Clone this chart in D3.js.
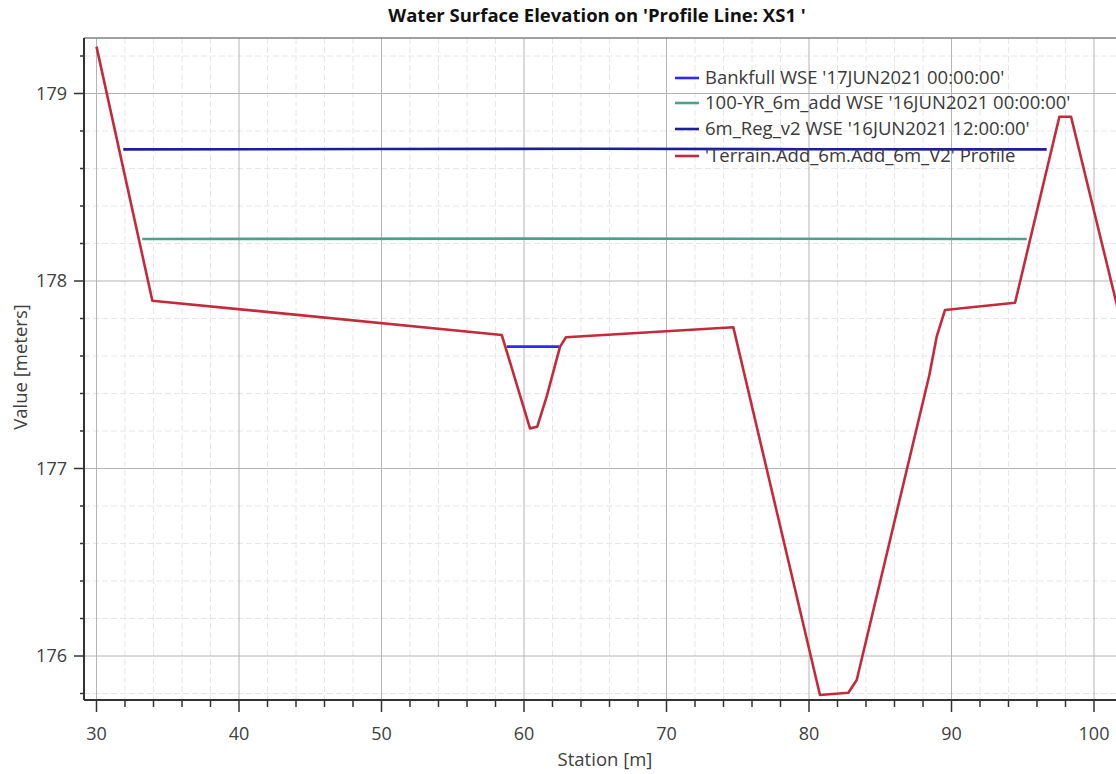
<!DOCTYPE html>
<html>
<head>
<meta charset="utf-8">
<script src="https://cdn.jsdelivr.net/npm/d3@7"></script>
<style>
  html, body { margin: 0; padding: 0; background: #fff; }
  svg { display: block; }
</style>
</head>
<body>
<svg id="chart" width="1116" height="774"></svg>
<script>
// ---------- data ----------
const title = "Water Surface Elevation on 'Profile Line: XS1 '";
const xLabel = "Station [m]";
const yLabel = "Value [meters]";
const xTicks = [30, 40, 50, 60, 70, 80, 90, 100];
const yTicks = [176, 177, 178, 179];

const terrainStation = [30, 33.92, 58.44, 60.42, 60.93, 61.59, 62.53, 62.95, 74.69, 80.77, 82.76, 83.35, 88.45, 88.96, 89.54, 94.46, 97.57, 98.39, 101.35, 102];
const terrainValue   = [179.25, 177.895, 177.712, 177.214, 177.223, 177.383, 177.65, 177.70, 177.753, 175.792, 175.804, 175.872, 177.50, 177.703, 177.845, 177.884, 178.876, 178.876, 177.952, 177.75];

const regStation = [31.88, 50, 65, 80, 96.68];
const regValue   = [178.702, 178.704, 178.705, 178.703, 178.702];

const yrStation = [33.21, 60, 95.28];
const yrValue   = [178.224, 178.226, 178.224];

const bankStation = [58.79, 62.46];
const bankValue   = [177.65, 177.65];

const legendLabels = [
  "Bankfull WSE '17JUN2021 00:00:00'",
  "100-YR_6m_add WSE '16JUN2021 00:00:00'",
  "6m_Reg_v2 WSE '16JUN2021 12:00:00'",
  "'Terrain.Add_6m.Add_6m_V2' Profile"
];
const legendColors = ["#2b2bf5", "#4f9f8f", "#1e1e9a", "#c42a3c"];

// ---------- layout ----------
const svg = d3.select("#chart");
const plot = { left: 84, top: 38, bottom: 700, right: 1130 };
const font = "'Open Sans', 'Noto Sans', sans-serif";

const x = d3.scaleLinear().domain([30, 100]).range([96.5, 1094]);
const y = d3.scaleLinear().domain([176, 179]).range([656, 93.5]);

svg.append("defs").append("clipPath").attr("id", "clip")
  .append("rect").attr("x", plot.left).attr("y", plot.top)
  .attr("width", plot.right - plot.left).attr("height", plot.bottom - plot.top);

const xMin = x.invert(plot.left), xMax = x.invert(plot.right);
const yMin = y.invert(plot.bottom), yMax = y.invert(plot.top);
const xMinor = d3.range(Math.ceil(xMin / 2) * 2, xMax, 2).filter(v => v % 10 !== 0);
const yMinor = d3.range(Math.ceil(yMin * 5), yMax * 5).map(v => v / 5).filter(v => Math.abs(v - Math.round(v)) > 1e-6);

const grid = svg.append("g").attr("clip-path", "url(#clip)");
// minor grid
grid.selectAll(".mgx").data(xMinor).join("line")
  .attr("x1", d => x(d)).attr("x2", d => x(d))
  .attr("y1", plot.top).attr("y2", plot.bottom)
  .attr("stroke", "#e6e6e6").attr("stroke-width", 1).attr("stroke-dasharray", "6,3");
grid.selectAll(".mgy").data(yMinor).join("line")
  .attr("x1", plot.left).attr("x2", plot.right)
  .attr("y1", d => y(d)).attr("y2", d => y(d))
  .attr("stroke", "#e6e6e6").attr("stroke-width", 1).attr("stroke-dasharray", "6,3");
// major grid
grid.selectAll(".gx").data(xTicks).join("line")
  .attr("x1", d => x(d)).attr("x2", d => x(d))
  .attr("y1", plot.top).attr("y2", plot.bottom)
  .attr("stroke", "#b4b4b4").attr("stroke-width", 1);
grid.selectAll(".gy").data(yTicks).join("line")
  .attr("x1", plot.left).attr("x2", plot.right)
  .attr("y1", d => y(d)).attr("y2", d => y(d))
  .attr("stroke", "#b4b4b4").attr("stroke-width", 1);

// ---------- series ----------
const line = d3.line().x(d => x(d[0])).y(d => y(d[1]));
const series = [
  { s: regStation, v: regValue, c: legendColors[2] },
  { s: yrStation, v: yrValue, c: legendColors[1] },
  { s: bankStation, v: bankValue, c: legendColors[0] },
  { s: terrainStation, v: terrainValue, c: legendColors[3] }
];
const lines = svg.append("g").attr("clip-path", "url(#clip)");
series.forEach(sr => {
  lines.append("path")
    .datum(sr.s.map((s, i) => [s, sr.v[i]]))
    .attr("d", line)
    .attr("fill", "none")
    .attr("stroke", sr.c)
    .attr("stroke-width", 2.6)
    .attr("stroke-linejoin", "round");
});

// ---------- frame / axes ----------
svg.append("line").attr("x1", plot.left).attr("x2", 1116).attr("y1", plot.top).attr("y2", plot.top)
  .attr("stroke", "#808080").attr("stroke-width", 1.5);
svg.append("line").attr("x1", plot.left).attr("x2", plot.left).attr("y1", plot.top).attr("y2", plot.bottom)
  .attr("stroke", "#333").attr("stroke-width", 2);
svg.append("line").attr("x1", plot.left).attr("x2", 1116).attr("y1", plot.bottom).attr("y2", plot.bottom)
  .attr("stroke", "#333").attr("stroke-width", 2);

const tickColor = "#333";
// x ticks
svg.selectAll(".xt").data(xTicks).join("line")
  .attr("x1", d => x(d)).attr("x2", d => x(d)).attr("y1", plot.bottom).attr("y2", plot.bottom + 12)
  .attr("stroke", tickColor).attr("stroke-width", 1.5);
svg.selectAll(".xmt").data(xMinor.filter(v => x(v) < 1116)).join("line")
  .attr("x1", d => x(d)).attr("x2", d => x(d)).attr("y1", plot.bottom).attr("y2", plot.bottom + 7)
  .attr("stroke", tickColor).attr("stroke-width", 1.5);
svg.selectAll(".xl").data(xTicks).join("text")
  .attr("x", d => x(d)).attr("y", 740)
  .attr("text-anchor", "middle")
  .attr("font-family", font).attr("font-size", 18).attr("fill", "#404040")
  .text(d => d);
// y ticks
svg.selectAll(".yt").data(yTicks).join("line")
  .attr("x1", plot.left - 10).attr("x2", plot.left).attr("y1", d => y(d)).attr("y2", d => y(d))
  .attr("stroke", tickColor).attr("stroke-width", 1.5);
svg.selectAll(".ymt").data(yMinor).join("line")
  .attr("x1", plot.left - 4).attr("x2", plot.left).attr("y1", d => y(d)).attr("y2", d => y(d))
  .attr("stroke", tickColor).attr("stroke-width", 1.5);
svg.selectAll(".yl").data(yTicks).join("text")
  .attr("x", 67).attr("y", d => y(d)).attr("dy", "0.35em")
  .attr("text-anchor", "end")
  .attr("font-family", font).attr("font-size", 18).attr("fill", "#404040")
  .text(d => d);

// ---------- labels ----------
svg.append("text").attr("x", 597).attr("y", 22).attr("text-anchor", "middle")
  .attr("font-family", font).attr("font-weight", "bold").attr("font-size", 18.5).attr("fill", "#111")
  .text(title);
svg.append("text").attr("x", 605).attr("y", 766).attr("text-anchor", "middle")
  .attr("font-family", font).attr("font-size", 18.5).attr("fill", "#404040")
  .text(xLabel);
svg.append("text").attr("transform", "translate(27,367) rotate(-90)").attr("text-anchor", "middle")
  .attr("font-family", font).attr("font-size", 18.5).attr("fill", "#404040")
  .text(yLabel);

// ---------- legend ----------
const legY = [78, 103, 129, 156];
const leg = svg.append("g");
legendLabels.forEach((lab, i) => {
  leg.append("line").attr("x1", 675).attr("x2", 699).attr("y1", legY[i]).attr("y2", legY[i])
    .attr("stroke", legendColors[i]).attr("stroke-width", 2.6);
  leg.append("text").attr("x", 705).attr("y", legY[i]).attr("dy", "0.35em")
    .attr("font-family", font).attr("font-size", 18.5).attr("fill", "#3a3a3a")
    .text(lab);
});
</script>
</body>
</html>
